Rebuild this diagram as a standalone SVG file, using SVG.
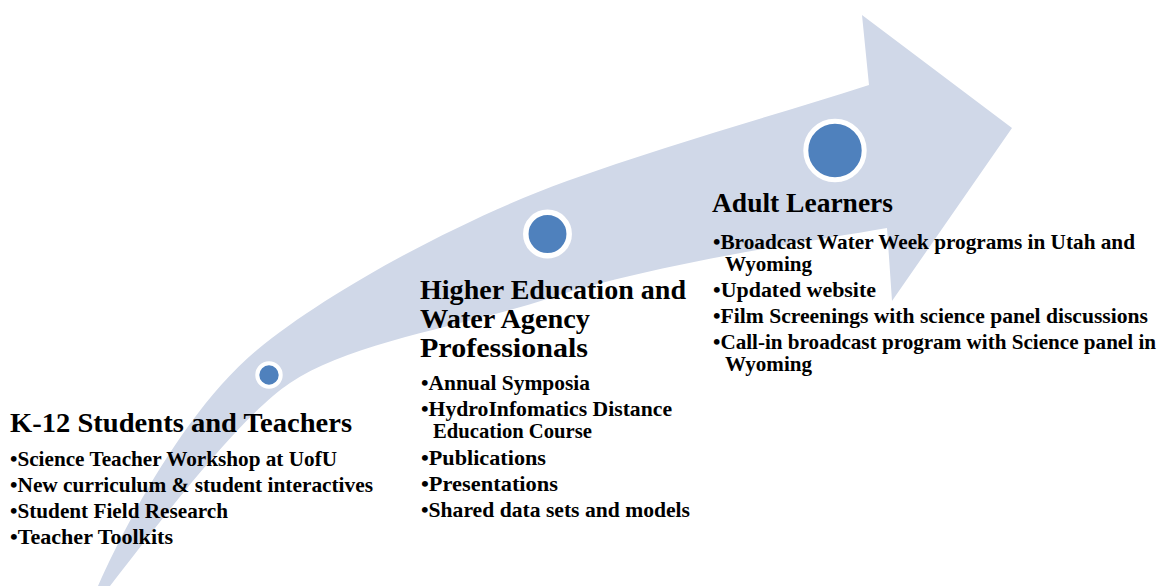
<svg xmlns="http://www.w3.org/2000/svg" width="1157" height="586" viewBox="0 0 1157 586">
  <style>
    .t { font-family: "Liberation Serif", "Times New Roman", serif; font-weight: bold; fill: #000; }
    .h { font-size: 28px; }
    .b { font-size: 21px; }
    .dot { fill: #4F81BD; stroke: #FFFFFF; }
  </style>
  <rect width="1157" height="586" fill="#FFFFFF"/>
  <g id="connectors">
    <path id="arrow" fill="#D0D8E8" d="M 98,586 C 125,525 185,410 257,350 C 332,288 467,217 567,181 C 667,145 769,117 869,85 L 862,15 L 1012,128 L 892,301 L 887,228 C 800,243 650,265 550,298 C 465,326 350,342 290,383 C 235,420 150,535 110,586 L 82,622 Z"/>
  </g>
  <g id="k12">
    <circle class="dot" cx="269" cy="375" r="11.7" stroke-width="4"/>
    <text class="t h" x="10" y="432" textLength="342" lengthAdjust="spacingAndGlyphs">K-12 Students and Teachers</text>
    <text class="t b" x="10" y="466" textLength="327" lengthAdjust="spacingAndGlyphs">•Science Teacher Workshop at UofU</text>
    <text class="t b" x="10" y="492" textLength="363" lengthAdjust="spacingAndGlyphs">•New curriculum &amp; student interactives</text>
    <text class="t b" x="10" y="518" textLength="218" lengthAdjust="spacingAndGlyphs">•Student Field Research</text>
    <text class="t b" x="10" y="544" textLength="163" lengthAdjust="spacingAndGlyphs">•Teacher Toolkits</text>
  </g>
  <g id="higher-ed">
    <circle class="dot" cx="547.5" cy="234" r="21.7" stroke-width="5.5"/>
    <text class="t h" x="420" y="299" textLength="266" lengthAdjust="spacingAndGlyphs">Higher Education and</text>
    <text class="t h" x="420" y="328" textLength="170" lengthAdjust="spacingAndGlyphs">Water Agency</text>
    <text class="t h" x="420" y="357" textLength="168" lengthAdjust="spacingAndGlyphs">Professionals</text>
    <text class="t b" x="421" y="390" textLength="169" lengthAdjust="spacingAndGlyphs">•Annual Symposia</text>
    <text class="t b" x="421" y="416" textLength="251" lengthAdjust="spacingAndGlyphs">•HydroInfomatics Distance</text>
    <text class="t b" x="433" y="438" textLength="159" lengthAdjust="spacingAndGlyphs">Education Course</text>
    <text class="t b" x="421" y="465" textLength="125" lengthAdjust="spacingAndGlyphs">•Publications</text>
    <text class="t b" x="421" y="491" textLength="137" lengthAdjust="spacingAndGlyphs">•Presentations</text>
    <text class="t b" x="421" y="517" textLength="269" lengthAdjust="spacingAndGlyphs">•Shared data sets and models</text>
  </g>
  <g id="adult">
    <circle class="dot" cx="835" cy="150.5" r="29.2" stroke-width="5"/>
    <text class="t h" x="712" y="212" textLength="181" lengthAdjust="spacingAndGlyphs">Adult Learners</text>
    <text class="t b" x="713" y="249" textLength="422" lengthAdjust="spacingAndGlyphs">•Broadcast Water Week programs in Utah and</text>
    <text class="t b" x="725" y="271" textLength="87" lengthAdjust="spacingAndGlyphs">Wyoming</text>
    <text class="t b" x="713" y="297" textLength="163" lengthAdjust="spacingAndGlyphs">•Updated website</text>
    <text class="t b" x="713" y="323" textLength="435" lengthAdjust="spacingAndGlyphs">•Film Screenings with science panel discussions</text>
    <text class="t b" x="713" y="349" textLength="443" lengthAdjust="spacingAndGlyphs">•Call-in broadcast program with Science panel in</text>
    <text class="t b" x="725" y="371" textLength="87" lengthAdjust="spacingAndGlyphs">Wyoming</text>
  </g>
</svg>
